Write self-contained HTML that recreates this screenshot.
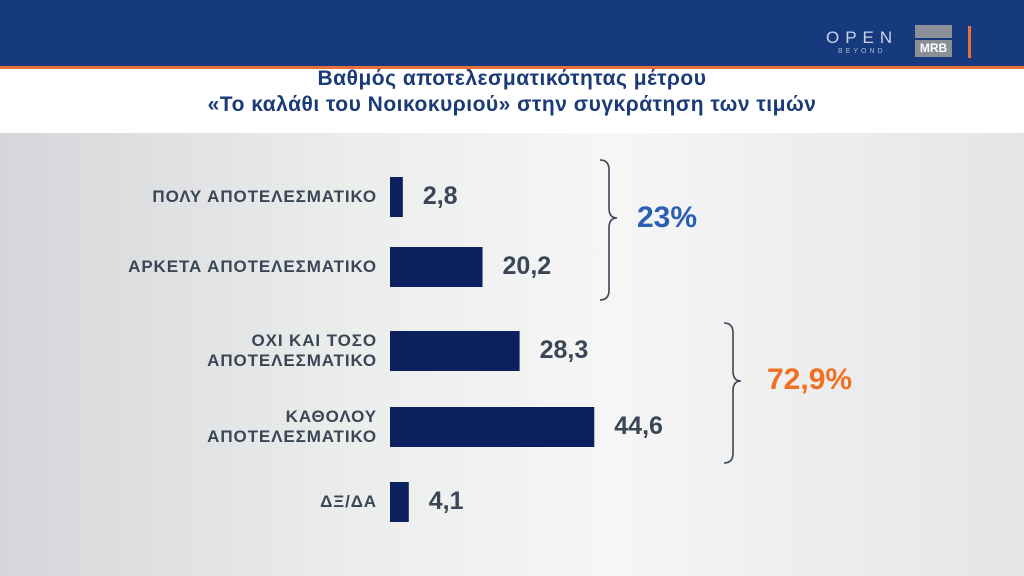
<!DOCTYPE html>
<html><head><meta charset="utf-8"><style>
body{margin:0;width:1024px;height:576px;overflow:hidden;font-family:"Liberation Sans","DejaVu Sans",sans-serif;}
#root{position:relative;width:1024px;height:576px;background:linear-gradient(90deg,#d4d6d9 0%,#eceded 35%,#f6f6f6 60%,#e4e5e7 100%);}
#hdr{position:absolute;left:0;top:0;width:1024px;height:66px;background:#173a7e;}
#orange{position:absolute;left:0;top:66px;width:1024px;height:3px;background:#e8703a;}
#band{position:absolute;left:0;top:69px;width:1024px;height:64px;background:#fff;}
.title{position:absolute;left:0;width:1024px;text-align:center;font-weight:bold;font-size:21px;letter-spacing:0.5px;color:#1b3a78;}
.lbl{position:absolute;right:647px;text-align:right;font-weight:bold;font-size:17px;letter-spacing:0.9px;color:#3a4656;line-height:20px;}
.val{position:absolute;font-weight:bold;font-size:25px;color:#3a4656;}
</style></head><body>
<div id="root">
<div id="hdr"></div>
<div style="position:absolute;left:826px;top:28px;color:#c9d3e6;font-size:17px;letter-spacing:6px;">OPEN</div>
<div style="position:absolute;left:838px;top:48px;color:#a9b6cf;font-size:7px;letter-spacing:3px;">BEYOND</div>
<div style="position:absolute;left:915px;top:25px;width:37px;height:32px;">
<div style="height:13px;background:#8b8f97;"></div><div style="margin-top:2px;height:17px;background:#8b8f97;color:#fff;font-weight:bold;font-size:12px;text-align:center;line-height:17px;">MRB</div></div>
<div style="position:absolute;left:968px;top:26px;width:3px;height:32px;background:#e8703a;"></div>
<div id="orange"></div>
<div id="band"></div>
<div class="title" style="top:67px;">Βαθμός αποτελεσματικότητας μέτρου</div>
<div class="title" style="top:93px;">«Το καλάθι του Νοικοκυριού» στην συγκράτηση των τιμών</div>
<svg id="chart" width="1024" height="576" style="position:absolute;left:0;top:0;"></svg>
<svg width="1024" height="576" style="position:absolute;left:0;top:0;">
<path d="M600 160 Q609 160 609 170 L609 208 Q609 218 617 218 Q609 218 609 228 L609 290 Q609 300 600 300" fill="none" stroke="#3a4656" stroke-width="1.6"/>
<path d="M724 323 Q733 323 733 333 L733 371 Q733 381 741 381 Q733 381 733 391 L733 453 Q733 463 724 463" fill="none" stroke="#3a4656" stroke-width="1.6"/>
</svg>
<div style="position:absolute;left:637px;top:201px;font-weight:bold;font-size:30px;color:#2b5fb4;">23%</div>
<div style="position:absolute;left:767px;top:363px;font-weight:bold;font-size:30px;color:#f07022;">72,9%</div>
</div>
<script>
const categories=[["ΠΟΛΥ ΑΠΟΤΕΛΕΣΜΑΤΙΚΟ"],["ΑΡΚΕΤΑ ΑΠΟΤΕΛΕΣΜΑΤΙΚΟ"],["ΟΧΙ ΚΑΙ ΤΟΣΟ","ΑΠΟΤΕΛΕΣΜΑΤΙΚΟ"],["ΚΑΘΟΛΟΥ","ΑΠΟΤΕΛΕΣΜΑΤΙΚΟ"],["ΔΞ/ΔΑ"]];
const values=[2.8,20.2,28.3,44.6,4.1];
const valueLabels=["2,8","20,2","28,3","44,6","4,1"];
const barTops=[177,247,331,407,482];
const x0=390, scale=4.58, barH=40;
const xPos=v=>x0+v*scale;
const svg=document.getElementById('chart');
const root=document.getElementById('root');
values.forEach((v,i)=>{
  const r=document.createElementNS('http://www.w3.org/2000/svg','rect');
  r.setAttribute('x',x0);r.setAttribute('y',barTops[i]);
  r.setAttribute('width',xPos(v)-x0);r.setAttribute('height',barH);
  r.setAttribute('fill','#0c1f5e');
  
  
  svg.appendChild(r);
  const t=document.createElement('div');
  t.className='val';t.textContent=valueLabels[i];
  t.style.left=(xPos(v)+20)+'px';t.style.top=(barTops[i]+5)+'px';
  
  
  root.appendChild(t);
  const l=document.createElement('div');
  l.className='lbl';l.innerHTML=categories[i].join('<br>');
  const h=categories[i].length*20;
  l.style.top=(barTops[i]+barH/2-h/2)+'px';
  
  
  root.appendChild(l);
});
</script>
</body></html>
